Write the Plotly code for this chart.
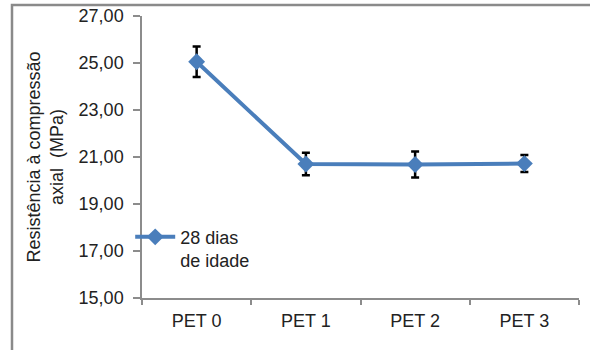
import plotly.graph_objects as go

categories = ["PET 0", "PET 1", "PET 2", "PET 3"]
values = [25.05, 20.70, 20.68, 20.72]
errors = [0.65, 0.48, 0.55, 0.36]
series_name = "28 dias<br>de idade"
y_ticks = [15, 17, 19, 21, 23, 25, 27]
y_tick_labels = ["15,00", "17,00", "19,00", "21,00", "23,00", "25,00", "27,00"]

fig = go.Figure()
fig.add_trace(go.Scatter(
    x=categories, y=values, name=series_name, mode="lines+markers",
    line=dict(color="#4a7ebb", width=4),
    marker=dict(symbol="diamond", size=13, color="#4a7ebb"),
    error_y=dict(type="data", array=errors, visible=True, color="black", thickness=2.5, width=4),
))

fig.update_layout(
    width=590, height=350,
    margin=dict(l=142, r=11, t=16, b=52),
    paper_bgcolor="white", plot_bgcolor="white",
    font=dict(family="Liberation Sans, Arial, sans-serif", size=18, color="#222"),
    showlegend=True,
    legend=dict(x=-0.027, y=0.175, xanchor="left", yanchor="middle", itemwidth=40,
                bgcolor="rgba(0,0,0,0)", font=dict(size=18), valign="top"),
    xaxis=dict(showgrid=False, showline=True, linecolor="#8c8c8c", linewidth=1.5,
               ticks="outside", ticklen=5, tickcolor="#8c8c8c", tickwidth=1.5,
               tickson="boundaries", range=[-0.5, 3.5], zeroline=False,
               ticklabelstandoff=6, automargin=False),
    yaxis=dict(range=[15, 27], tickvals=y_ticks, ticktext=y_tick_labels,
               showgrid=False, showline=True, linecolor="#8c8c8c", linewidth=1.5,
               ticks="outside", ticklen=7, tickcolor="#8c8c8c", tickwidth=1.5,
               zeroline=False, ticklabelstandoff=6, automargin=False,
               title=dict(text="Resistência à compressão<br>axial  (MPa)",
                          font=dict(size=18), standoff=10)),
    shapes=[dict(type="rect", xref="paper", yref="paper",
                 x0=-0.2975, x1=1.2, y0=-0.4, y1=1.039,
                 line=dict(color="#8a8a8a", width=2.5), fillcolor="rgba(0,0,0,0)")],
)

fig.write_html("out.html", config={"displayModeBar": False},
               post_script="document.body.style.margin='0';")
